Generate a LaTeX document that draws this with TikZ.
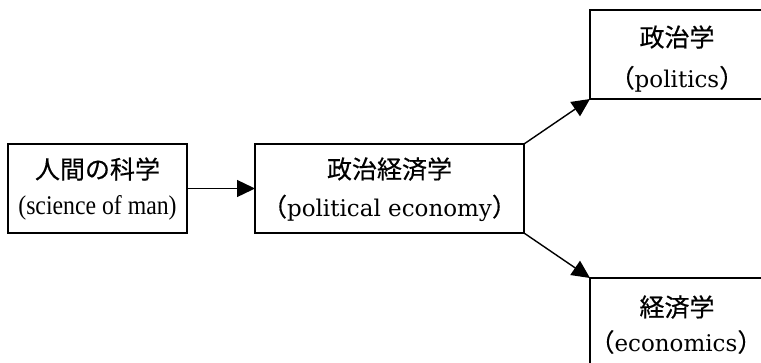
\documentclass[tikz,border=0pt]{standalone}
\usepackage{fontspec}
\newfontfamily\jpfont[FakeBold=0.5]{Noto Sans CJK JP}
\newfontfamily\tmsfont[FakeStretch=0.88]{Liberation Serif}
\newfontfamily\cenfont{DejaVu Serif}
\usetikzlibrary{arrows.meta}
\tikzset{
  box/.style={draw=black, line width=1.3pt, minimum height=89pt, inner sep=0pt, outer sep=0pt},
  jplabel/.style={inner sep=0pt, font=\jpfont\fontsize{25}{28}\selectfont},
  enlabel/.style={inner sep=0pt, font=\cenfont\fontsize{23}{28}\selectfont},
  conn/.style={line width=1.4pt, -{Triangle[length=18pt, width=17pt]}}
}
\newcommand{\fwl}{{\kern-10pt\jpfont\fontsize{25}{28}\selectfont （}}
\newcommand{\fwr}{{\jpfont\fontsize{25}{28}\selectfont ）\kern-10pt}}
\begin{document}
\begin{tikzpicture}[x=1pt, y=-1pt]
  \useasboundingbox (0,0) rectangle (761,362);
  \clip (0,0) rectangle (761,362);
  % boxes
  \node[box, minimum width=179pt] (b1) at (97.5,188.5) {};
  \node[box, minimum width=269pt] (b2) at (389.5,188.5) {};
  \node[box, minimum width=174pt] (b3) at (677,54.5) {};
  \node[box, minimum width=174pt] (b4) at (677,322.5) {};
  % labels
  \node[jplabel] (t1) at (97.5,169) {人間の科学};
  \node[inner sep=0pt, font=\tmsfont\fontsize{27}{30}\selectfont] (e1) at (97.5,208) {(science of man)};
  \node[jplabel] (t2) at (389.5,169) {政治経済学};
  \node[enlabel] (e2) at (389.5,208) {\fwl political economy\fwr};
  \node[jplabel] (t3) at (677,37) {政治学};
  \node[enlabel] (e3) at (677,79) {\fwl politics\fwr};
  \node[jplabel] (t4) at (677,307) {経済学};
  \node[enlabel] (e4) at (676,342) {\fwl economics\fwr};
  % connectors
  \draw[conn] (b1.east) -- (b2.west);
  \draw[conn] (b2.north east) -- (b3.south west);
  \draw[conn] (b2.south east) -- (b4.north west);
\end{tikzpicture}
\end{document}
